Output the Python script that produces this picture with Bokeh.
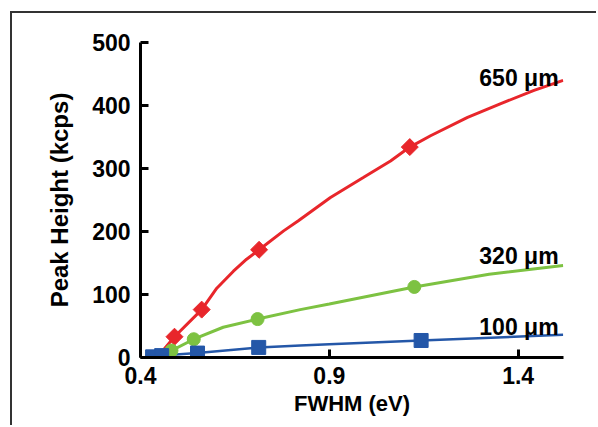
from bokeh.plotting import figure
from bokeh.models import Range1d, FixedTicker
from bokeh.core.properties import value
from bokeh.embed import file_html
from bokeh.resources import INLINE
import math

# ---- data ----
red_x = [0.490, 0.562, 0.714, 1.113]
red_y = [33, 76, 171, 334]
red_curve_x = [0.448, 0.490, 0.562, 0.602, 0.646, 0.681, 0.714, 0.779, 0.818, 0.903, 0.991, 1.062, 1.113, 1.168, 1.266, 1.354, 1.442, 1.519]
red_curve_y = [3, 33, 76, 110, 137, 156, 171, 201, 217, 254, 286, 312, 334, 352, 381, 403, 424, 440]

green_x = [0.482, 0.541, 0.710, 1.125]
green_y = [11, 29, 61, 112]
green_curve_x = [0.463, 0.482, 0.541, 0.619, 0.710, 0.823, 0.900, 1.125, 1.323, 1.519]
green_curve_y = [5, 11, 29, 48, 61, 76, 85, 112, 132, 146]

blue_x = [0.432, 0.456, 0.551, 0.713, 1.143]
blue_y = [1, 3, 7, 16, 27]
blue_curve_x = [0.432, 0.456, 0.551, 0.713, 0.823, 0.900, 1.143, 1.519]
blue_curve_y = [1, 3, 7, 16, 19, 21, 27, 36]

labels = ["650 \u03bcm", "320 \u03bcm", "100 \u03bcm"]
label_x = [1.507, 1.507, 1.507]
label_y = [444, 161, 49]

x_ticks = [0.4, 0.9, 1.4]
y_ticks = [0, 100, 200, 300, 400, 500]

RED = "#E8262B"
GREEN = "#7DC242"
BLUE = "#2457A8"
FONT = "Liberation Sans"

p = figure(width=586, height=414, output_backend="svg", toolbar_location=None,
           x_range=Range1d(0.4, 1.52), y_range=Range1d(0, 500),
           min_border_left=128, min_border_right=35, min_border_top=29, min_border_bottom=70)
p.margin = (11, 0, 0, 10)
p.styles = {"border-left": "2px solid #333333", "border-top": "2px solid #333333"}
p.background_fill_color = "white"
p.border_fill_color = "white"
p.outline_line_color = None
p.grid.visible = False

p.line(red_curve_x, red_curve_y, line_color=RED, line_width=3)
p.line(green_curve_x, green_curve_y, line_color=GREEN, line_width=3)
p.line(blue_curve_x, blue_curve_y, line_color=BLUE, line_width=2.5)

p.scatter(red_x, red_y, marker="square", angle=math.pi / 4, size=12,
          fill_color=RED, line_color=RED)
p.scatter(green_x, green_y, marker="circle", size=13, fill_color=GREEN, line_color=GREEN)
p.scatter(blue_x, blue_y, marker="square", size=14, fill_color=BLUE, line_color=BLUE)

p.text(label_x, label_y, text=labels, text_align="right", text_baseline="alphabetic",
       text_font=value(FONT), text_font_style="bold", text_font_size="23px", text_color="black")

for ax in (p.xaxis, p.yaxis):
    ax.axis_line_width = 3
    ax.axis_line_color = "black"
    ax.major_tick_line_width = 3
    ax.major_tick_line_color = "black"
    ax.major_tick_in = 8
    ax.major_tick_out = 0
    ax.minor_tick_line_color = None
    ax.major_label_text_font = FONT
    ax.major_label_text_font_style = "bold"
    ax.major_label_text_font_size = "23px"
    ax.major_label_text_color = "black"
    ax.axis_label_text_font = FONT
    ax.axis_label_text_font_style = "bold"
    ax.axis_label_text_color = "black"

p.xaxis.ticker = FixedTicker(ticks=x_ticks)
p.yaxis.ticker = FixedTicker(ticks=y_ticks)
p.xaxis.major_label_overrides = {0.4: "0.4", 0.9: "0.9", 1.4: "1.4"}
p.xaxis.major_label_standoff = 9
p.yaxis.major_label_standoff = 10
p.xaxis.axis_label = "FWHM (eV)"
p.yaxis.axis_label = "Peak Height (kcps)"
p.xaxis.axis_label_text_font_size = "22px"
p.yaxis.axis_label_text_font_size = "24px"
p.xaxis.axis_label_standoff = 4
p.yaxis.axis_label_standoff = 16

open("out.html", "w").write(file_html(p, INLINE))
